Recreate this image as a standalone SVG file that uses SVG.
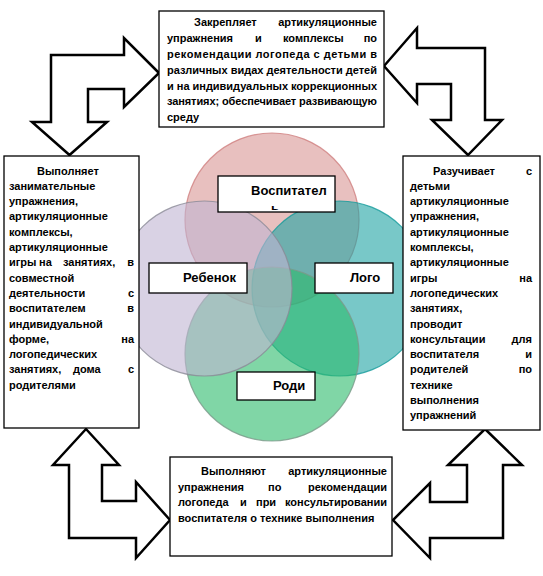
<svg xmlns="http://www.w3.org/2000/svg" width="543" height="576" viewBox="0 0 543 576">
<style>
.box{fill:#fff;stroke:#000;stroke-width:1.3}
.t{font-family:"Liberation Sans",Arial,sans-serif;font-size:11px;font-weight:bold;fill:#000}
.lbl{font-family:"Liberation Sans",Arial,sans-serif;font-size:13px;font-weight:bold;fill:#000}
.arrow{fill:#fff;stroke:#000;stroke-width:2.5;stroke-linejoin:miter}
.c{fill-opacity:0.6;stroke-width:1.2;stroke-opacity:0.8}
.e{text-anchor:end}
</style>
<defs>
<clipPath id="clipV"><rect x="219" y="177" width="115" height="33"/></clipPath>
</defs>
<rect width="543" height="576" fill="#fff"/>

<g id="venn">
<circle class="c" cx="272" cy="220" r="87" fill="#d99694" stroke="#d08080"/>
<circle class="c" cx="339.5" cy="288.5" r="87.5" fill="#1ea3a3" stroke="#129a9a"/>
<circle class="c" cx="272" cy="354" r="87" fill="#2bbb6b" stroke="#7a9a8a"/>
<circle class="c" cx="204.5" cy="288.5" r="87.5" fill="#c0b4d2" stroke="#8a8a96"/>
</g>

<g id="label-vospitatel">
<rect class="box" x="218" y="176" width="117" height="36"/>
<g clip-path="url(#clipV)">
<text class="lbl" x="251" y="195">Воспитател</text>
<text class="lbl" x="271" y="212.5">ь</text>
</g>
</g>
<g id="label-rebenok">
<rect class="box" x="149" y="263" width="98" height="30"/>
<text class="lbl" x="183" y="282">Ребенок</text>
</g>
<g id="label-logo">
<rect class="box" x="315" y="263" width="78" height="30"/>
<text class="lbl" x="350" y="282">Лого</text>
</g>
<g id="label-rodi">
<rect class="box" x="237" y="372" width="78" height="28"/>
<text class="lbl" x="273" y="390">Роди</text>
</g>

<g id="connectors">
<polygon class="arrow" points="159,73 124,38 124,55 51,55 51,122 32,122 69.5,155 107,122 88,122 88,89 124,89 124,107"/>
<polygon class="arrow" points="384,66 417,28 417,48 485,48 485,120 502,120 468,155 432,120 451,120 451,84 417,84 417,103"/>
<polygon class="arrow" points="86,429 119,465 102,465 102,501 136,501 136,482 170,520 136,558 136,538 69,538 69,465 53,465"/>
<polygon class="arrow" points="485,429 522,465 503,465 503,538 430,538 430,558 393,520 430,483 430,502 467,502 467,465 448,465"/>
</g>

<g id="node-top">
<rect class="box" x="159" y="11" width="225" height="116"/>
<text class="t" x="194" y="26">Закрепляет</text>
<text class="t e" x="377" y="26">артикуляционные</text>
<text class="t" y="42"><tspan x="167">упражнения</tspan><tspan x="255">и</tspan><tspan x="283">комплексы</tspan></text>
<text class="t e" x="377" y="42">по</text>
<text class="t" x="167" y="57.5" textLength="210" lengthAdjust="spacing">рекомендации логопеда с детьми в</text>
<text class="t" x="167" y="73.5" textLength="210" lengthAdjust="spacing">различных видах деятельности детей</text>
<text class="t" x="167" y="89.5" textLength="210" lengthAdjust="spacing">и на индивидуальных коррекционных</text>
<text class="t" x="167" y="105" textLength="210" lengthAdjust="spacing">занятиях; обеспечивает развивающую</text>
<text class="t" x="167" y="121">среду</text>
</g>

<g id="node-left">
<rect class="box" x="4" y="156" width="135" height="272"/>
<text class="t" x="37" y="174.5">Выполняет</text>
<text class="t" x="9" y="189.8">занимательные</text>
<text class="t" x="9" y="205.1">упражнения,</text>
<text class="t" x="9" y="220.4">артикуляционные</text>
<text class="t" x="9" y="235.7">комплексы,</text>
<text class="t" x="9" y="251">артикуляционные</text>
<text class="t" y="266.3"><tspan x="9">игры</tspan><tspan x="39">на</tspan><tspan x="63">занятиях,</tspan></text>
<text class="t e" x="134" y="266.3">в</text>
<text class="t" x="9" y="281.6">совместной</text>
<text class="t" x="9" y="296.9">деятельности</text>
<text class="t e" x="134" y="296.9">с</text>
<text class="t" x="9" y="312.2">воспитателем</text>
<text class="t e" x="134" y="312.2">в</text>
<text class="t" x="9" y="327.5">индивидуальной</text>
<text class="t" x="9" y="342.8">форме,</text>
<text class="t e" x="134" y="342.8">на</text>
<text class="t" x="9" y="358.1">логопедических</text>
<text class="t" y="373.4"><tspan x="9">занятиях,</tspan><tspan x="73">дома</tspan></text>
<text class="t e" x="134" y="373.4">с</text>
<text class="t" x="9" y="388.7">родителями</text>
</g>

<g id="node-right">
<rect class="box" x="403" y="156" width="137" height="274"/>
<text class="t" x="433" y="174.5">Разучивает</text>
<text class="t e" x="532" y="174.5">с</text>
<text class="t" x="410" y="189.8">детьми</text>
<text class="t" x="410" y="205.1">артикуляционные</text>
<text class="t" x="410" y="220.4">упражнения,</text>
<text class="t" x="410" y="235.7">артикуляционные</text>
<text class="t" x="410" y="251">комплексы,</text>
<text class="t" x="410" y="266.3">артикуляционные</text>
<text class="t" x="410" y="281.6">игры</text>
<text class="t e" x="532" y="281.6">на</text>
<text class="t" x="410" y="296.9">логопедических</text>
<text class="t" x="410" y="312.2">занятиях,</text>
<text class="t" x="410" y="327.5">проводит</text>
<text class="t" x="410" y="342.8">консультации</text>
<text class="t e" x="532" y="342.8">для</text>
<text class="t" x="410" y="358.1">воспитателя</text>
<text class="t e" x="532" y="358.1">и</text>
<text class="t" x="410" y="373.4">родителей</text>
<text class="t e" x="532" y="373.4">по</text>
<text class="t" x="410" y="388.7">технике</text>
<text class="t" x="410" y="404">выполнения</text>
<text class="t" x="410" y="419.3">упражнений</text>
</g>

<g id="node-bottom">
<rect class="box" x="170" y="457" width="222" height="99"/>
<text class="t" x="201" y="475">Выполняют</text>
<text class="t e" x="387" y="475">артикуляционные</text>
<text class="t" y="490.5"><tspan x="178">упражнения</tspan><tspan x="268">по</tspan></text>
<text class="t e" x="387" y="490.5">рекомендации</text>
<text class="t" y="506"><tspan x="178">логопеда</tspan><tspan x="240">и</tspan><tspan x="256">при</tspan></text>
<text class="t e" x="387" y="506">консультировании</text>
<text class="t" x="178" y="521.5">воспитателя о технике выполнения</text>
</g>
</svg>
